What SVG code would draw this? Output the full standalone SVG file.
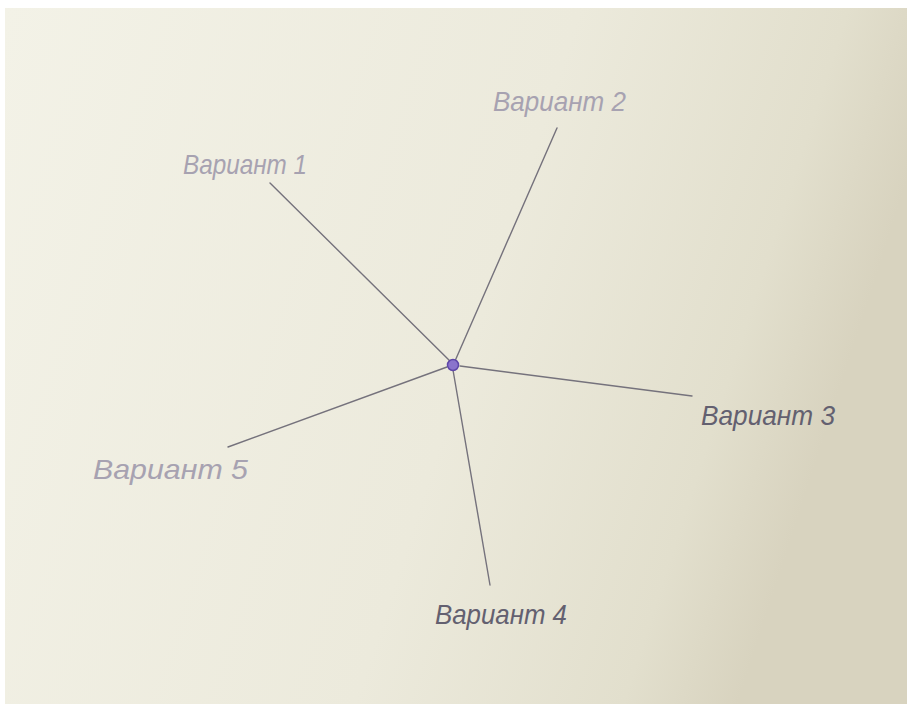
<svg xmlns="http://www.w3.org/2000/svg" width="907" height="704" viewBox="0 0 907 704">
<defs>
<linearGradient id="paper" x1="0" y1="0" x2="1" y2="0.25">
<stop offset="0" stop-color="#f3f2e7"/>
<stop offset="0.6" stop-color="#eceadc"/>
<stop offset="0.88" stop-color="#e2dfcd"/>
<stop offset="1" stop-color="#d8d3bf"/>
</linearGradient>
<style>
.edge{stroke:#75727c;stroke-width:1.4;fill:none;stroke-linecap:round}
.lbl{font-family:"Liberation Sans","DejaVu Sans",sans-serif;font-size:28px;font-style:italic}
.light{fill:#a7a2b1}
.dark{fill:#636070}
</style>
</defs>
<rect x="0" y="0" width="907" height="704" fill="#ffffff"/>
<rect x="5" y="8" width="902" height="696" fill="url(#paper)"/>
<g id="connectors">
<line class="edge" x1="270" y1="183" x2="453" y2="364"/>
<line class="edge" x1="557" y1="128" x2="455" y2="361"/>
<line class="edge" x1="460" y1="366" x2="692" y2="396"/>
<line class="edge" x1="453" y1="370" x2="490" y2="585"/>
<line class="edge" x1="447" y1="367" x2="228" y2="447"/>
</g>
<g id="center">
<circle cx="453" cy="365" r="5.5" fill="#8a74cc" stroke="#5e47a8" stroke-width="1.5"/>
</g>
<g id="n1"><text class="lbl light" x="183" y="174" textLength="124" lengthAdjust="spacingAndGlyphs">Вариант 1</text></g>
<g id="n2"><text class="lbl light" x="493" y="111" textLength="133" lengthAdjust="spacingAndGlyphs">Вариант 2</text></g>
<g id="n3"><text class="lbl dark" x="701" y="425" textLength="134" lengthAdjust="spacingAndGlyphs">Вариант 3</text></g>
<g id="n4"><text class="lbl dark" x="435" y="624" textLength="132" lengthAdjust="spacingAndGlyphs">Вариант 4</text></g>
<g id="n5"><text class="lbl light" x="93" y="479" textLength="155" lengthAdjust="spacingAndGlyphs">Вариант 5</text></g>
</svg>
